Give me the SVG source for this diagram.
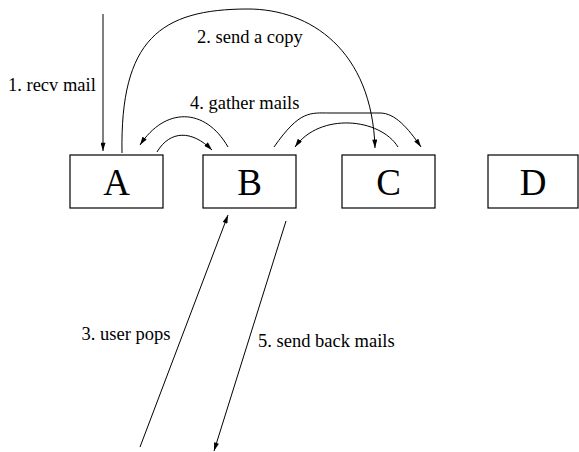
<svg xmlns="http://www.w3.org/2000/svg" width="579" height="452" viewBox="0 0 579 452">
<defs>
<marker id="ah" viewBox="0 0 10 6" refX="10" refY="3" markerWidth="9" markerHeight="5" orient="auto" markerUnits="userSpaceOnUse"><path d="M0,0 L10,3 L0,6 Z" fill="#000"/></marker>
<style>
.box{fill:#fff;stroke:#000;stroke-width:1.2}
.big{font-family:"Liberation Serif","Times New Roman",serif;font-size:37px;fill:#000;text-anchor:middle}
.lbl{font-family:"Liberation Serif","Times New Roman",serif;font-size:18.5px;fill:#000}
.c{fill:none;stroke:#000;stroke-width:1;marker-end:url(#ah)}
</style>
</defs>
<rect width="579" height="452" fill="#fff"/>
<g id="nodeA"><rect class="box" x="70" y="155" width="93" height="53"/><text class="big" x="116.5" y="195">A</text></g>
<g id="nodeB"><rect class="box" x="203" y="155" width="93" height="53"/><text class="big" x="249.5" y="195">B</text></g>
<g id="nodeC"><rect class="box" x="342" y="155" width="93" height="53"/><text class="big" x="388.5" y="195">C</text></g>
<g id="nodeD"><rect class="box" x="488" y="155" width="90" height="53"/><text class="big" x="533" y="195">D</text></g>
<g id="connectors">
<path class="c" d="M103,14 L103,151"/>
<path class="c" d="M122,153 C120,40 160,9 248,9 C310,9 372,50 375,148"/>
<path class="c" d="M228,147 C205,107 165,107 140,145"/>
<path class="c" d="M157,152 C170,130 192,130 212,150"/>
<path class="c" d="M274,147 C300,110 310,113 330,113 L380,113 C395,113 408,128 421,147"/>
<path class="c" d="M398,147 C380,118 320,112 295,147"/>
<path class="c" d="M140,447 L228,215"/>
<path class="c" d="M286,221 L214,451"/>
</g>
<g id="labels">
<text class="lbl" x="8" y="91">1. recv mail</text>
<text class="lbl" x="197" y="43">2. send a copy</text>
<text class="lbl" x="190" y="108.5">4. gather mails</text>
<text class="lbl" x="81.5" y="340">3. user pops</text>
<text class="lbl" x="258" y="347">5. send back mails</text>
</g>
</svg>
